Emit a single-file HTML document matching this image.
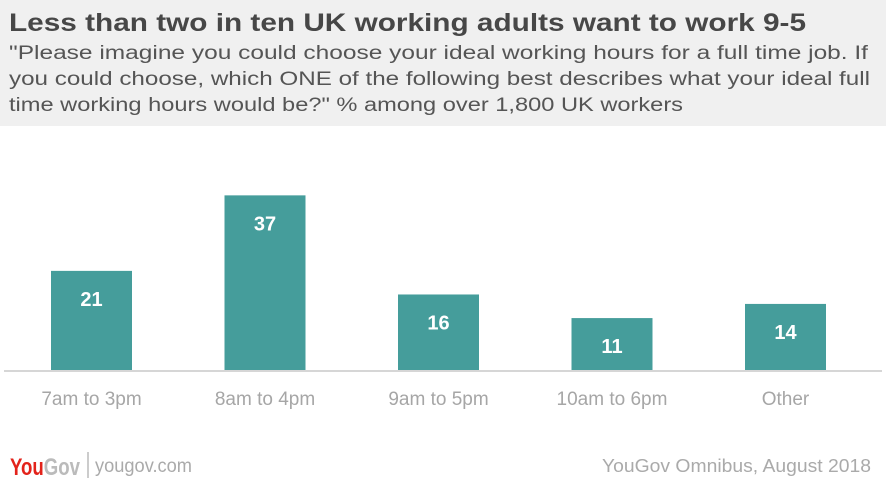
<!DOCTYPE html>
<html><head><meta charset="utf-8"><style>
body{margin:0;background:#fff}
svg{display:block;font-family:"Liberation Sans",sans-serif}
</style></head><body>
<svg width="886" height="486" viewBox="0 0 886 486">
<rect x="0" y="0" width="886" height="126" fill="#f0f0f0"/>
<text x="9" y="31" font-size="25" font-weight="bold" fill="#474747" textLength="797" lengthAdjust="spacingAndGlyphs">Less than two in ten UK working adults want to work 9-5</text>
<g font-size="19" fill="#555">
<text x="9" y="59" textLength="859" lengthAdjust="spacingAndGlyphs">"Please imagine you could choose your ideal working hours for a full time job. If</text>
<text x="9" y="85" textLength="861" lengthAdjust="spacingAndGlyphs">you could choose, which ONE of the following best describes what your ideal full</text>
<text x="9" y="111" textLength="674" lengthAdjust="spacingAndGlyphs">time working hours would be?" % among over 1,800 UK workers</text>
</g>
<g id="bars"></g>
<line x1="4" y1="371" x2="882" y2="371" stroke="#d6d6d6" stroke-width="2"/>
<text x="10" y="475" font-size="24" font-weight="bold" fill="#e3231b" textLength="70" lengthAdjust="spacingAndGlyphs">You<tspan fill="#bbb">Gov</tspan></text>
<line x1="88" y1="452" x2="88" y2="478" stroke="#bbb" stroke-width="1.5"/>
<text x="95" y="472" font-size="19" fill="#aaa" textLength="97" lengthAdjust="spacingAndGlyphs">yougov.com</text>
<text x="871" y="472" font-size="18" fill="#aaa" text-anchor="end" textLength="269" lengthAdjust="spacingAndGlyphs">YouGov Omnibus, August 2018</text>
</svg>
<script>
const categories=["7am to 3pm","8am to 4pm","9am to 5pm","10am to 6pm","Other"];
const values=[21,37,16,11,14];
const baseY=370, unit=4.72, x0=51, step=173.5, bw=81;
const yScale=v=>baseY-v*unit;
const xScale=i=>x0+i*step;
const g=document.getElementById('bars');
const NS="http://www.w3.org/2000/svg";
categories.forEach((c,i)=>{
  const v=values[i];
  const r=document.createElementNS(NS,'rect');
  r.setAttribute('x',xScale(i));r.setAttribute('y',yScale(v));
  r.setAttribute('width',bw);r.setAttribute('height',baseY-yScale(v));
  r.setAttribute('fill','#459d9b');
  
  
  g.appendChild(r);
  const t=document.createElementNS(NS,'text');
  t.setAttribute('x',xScale(i)+bw/2);t.setAttribute('y',yScale(v)+35);
  t.setAttribute('text-anchor','middle');t.setAttribute('font-size','20');
  t.setAttribute('font-weight','bold');t.setAttribute('fill','#fff');
  t.textContent=v;
  
  
  g.appendChild(t);
  const l=document.createElementNS(NS,'text');
  l.setAttribute('x',xScale(i)+bw/2);l.setAttribute('y',405);
  l.setAttribute('text-anchor','middle');l.setAttribute('font-size','19');
  l.setAttribute('fill','#a6a6a6');
  l.textContent=c;
  
  
  g.appendChild(l);
});
</script>
</body></html>
